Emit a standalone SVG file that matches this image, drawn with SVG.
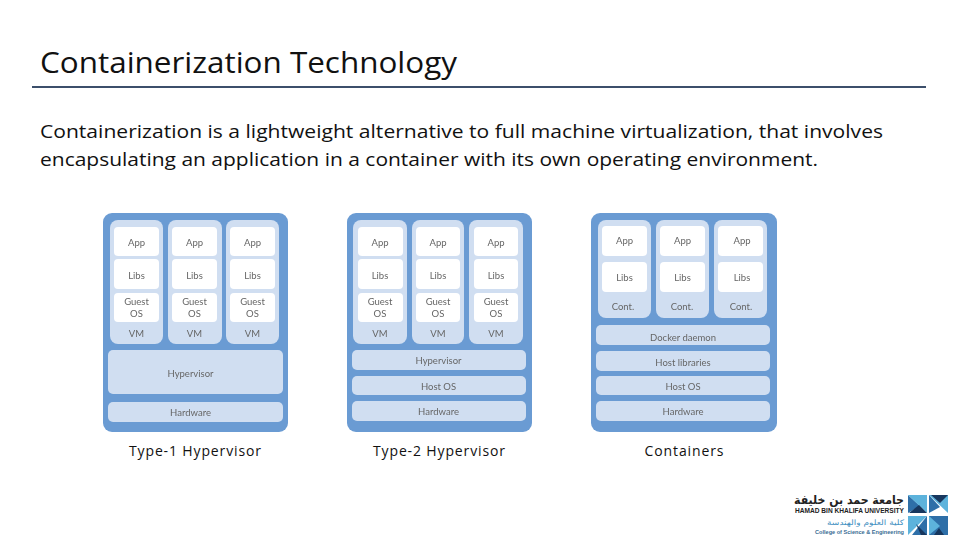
<svg xmlns="http://www.w3.org/2000/svg" width="960" height="540" viewBox="0 0 960 540">
<style>
.t{font-family:"Open Sans","Noto Sans",sans-serif;fill:#111}
.o{fill:#6a9bd3}
.v{fill:#d0def1}
.w{fill:#fff}
.l{font-family:Lato,"Noto Sans",sans-serif;font-size:9.5px;fill:#666;text-anchor:middle;filter:blur(.35px)}
.c{font-family:"Open Sans","Noto Sans",sans-serif;font-size:14px;fill:#111;text-anchor:middle}
.ar{font-family:"DejaVu Sans",sans-serif;direction:rtl}
.m{fill:#2e6fa8}
.n{fill:#5db3dc}
.d{fill:#17375e}
</style>
<rect width="960" height="540" fill="#fff"/>
<g id="header">
<text class="t" x="40" y="73" font-size="30" textLength="417" lengthAdjust="spacingAndGlyphs">Containerization Technology</text>
<rect x="32" y="86" width="894" height="2" fill="#3c4f6b"/>
<text class="t" x="40" y="138" font-size="19" textLength="843" lengthAdjust="spacingAndGlyphs">Containerization is a lightweight alternative to full machine virtualization, that involves</text>
<text class="t" x="40" y="166" font-size="19" textLength="778" lengthAdjust="spacingAndGlyphs">encapsulating an application in a container with its own operating environment.</text>
</g>
<g id="type1">
<rect class="o" x="103" y="213" width="185" height="219" rx="9"/>
<rect class="v" x="110" y="220" width="53" height="124" rx="8"/><rect class="v" x="168" y="220" width="54" height="124" rx="8"/><rect class="v" x="226" y="220" width="53" height="124" rx="8"/>
<rect class="w" x="114" y="227" width="45" height="29" rx="4"/><rect class="w" x="172" y="227" width="45" height="29" rx="4"/><rect class="w" x="230" y="227" width="45" height="29" rx="4"/>
<rect class="w" x="114" y="259" width="45" height="30" rx="4"/><rect class="w" x="172" y="259" width="45" height="30" rx="4"/><rect class="w" x="230" y="259" width="45" height="30" rx="4"/>
<rect class="w" x="114" y="293" width="45" height="29" rx="4"/><rect class="w" x="172" y="293" width="45" height="29" rx="4"/><rect class="w" x="230" y="293" width="45" height="29" rx="4"/>
<rect class="v" x="108" y="350" width="175" height="44" rx="5"/><rect class="v" x="108" y="402" width="175" height="20" rx="5"/>
<text class="l" x="136.500" y="246">App</text><text class="l" x="194.500" y="246">App</text><text class="l" x="252.500" y="246">App</text>
<text class="l" x="136.500" y="279">Libs</text><text class="l" x="194.500" y="279">Libs</text><text class="l" x="252.500" y="279">Libs</text>
<text class="l" x="136.500" y="305">Guest</text><text class="l" x="194.500" y="305">Guest</text><text class="l" x="252.500" y="305">Guest</text>
<text class="l" x="136.500" y="317">OS</text><text class="l" x="194.500" y="317">OS</text><text class="l" x="252.500" y="317">OS</text>
<text class="l" x="136.500" y="337">VM</text><text class="l" x="194.500" y="337">VM</text><text class="l" x="252.500" y="337">VM</text>
<text class="l" x="190.500" y="377">Hypervisor</text><text class="l" x="190.500" y="416">Hardware</text>
<text class="c" x="195" y="456" textLength="132" lengthAdjust="spacing">Type-1 Hypervisor</text>
</g>
<g id="type2">
<rect class="o" x="347" y="213" width="185" height="219" rx="9"/>
<rect class="v" x="353" y="220" width="54" height="124" rx="8"/><rect class="v" x="412" y="220" width="52" height="124" rx="8"/><rect class="v" x="469" y="220" width="54" height="124" rx="8"/>
<rect class="w" x="358" y="227" width="45" height="29" rx="4"/><rect class="w" x="416" y="227" width="44" height="29" rx="4"/><rect class="w" x="474" y="227" width="44" height="29" rx="4"/>
<rect class="w" x="358" y="259" width="45" height="30" rx="4"/><rect class="w" x="416" y="259" width="44" height="30" rx="4"/><rect class="w" x="474" y="259" width="44" height="30" rx="4"/>
<rect class="w" x="358" y="293" width="45" height="29" rx="4"/><rect class="w" x="416" y="293" width="44" height="29" rx="4"/><rect class="w" x="474" y="293" width="44" height="29" rx="4"/>
<rect class="v" x="352" y="350" width="174" height="20" rx="5"/><rect class="v" x="352" y="376" width="174" height="19" rx="5"/><rect class="v" x="352" y="401" width="174" height="20" rx="5"/>
<text class="l" x="380" y="246">App</text><text class="l" x="438" y="246">App</text><text class="l" x="496" y="246">App</text>
<text class="l" x="380" y="279">Libs</text><text class="l" x="438" y="279">Libs</text><text class="l" x="496" y="279">Libs</text>
<text class="l" x="380" y="305">Guest</text><text class="l" x="438" y="305">Guest</text><text class="l" x="496" y="305">Guest</text>
<text class="l" x="380" y="317">OS</text><text class="l" x="438" y="317">OS</text><text class="l" x="496" y="317">OS</text>
<text class="l" x="380" y="337">VM</text><text class="l" x="438" y="337">VM</text><text class="l" x="496" y="337">VM</text>
<text class="l" x="438.500" y="364">Hypervisor</text><text class="l" x="438.500" y="390">Host OS</text><text class="l" x="438.500" y="415">Hardware</text>
<text class="c" x="439" y="456" textLength="132" lengthAdjust="spacing">Type-2 Hypervisor</text>
</g>
<g id="containers">
<rect class="o" x="591" y="213" width="186" height="219" rx="9"/>
<rect class="v" x="598" y="220" width="53" height="98" rx="8"/><rect class="v" x="656" y="220" width="53" height="98" rx="8"/><rect class="v" x="714" y="220" width="53" height="98" rx="8"/>
<rect class="w" x="602" y="226" width="45" height="30" rx="4"/><rect class="w" x="660" y="226" width="45" height="30" rx="4"/><rect class="w" x="718" y="226" width="45" height="30" rx="4"/>
<rect class="w" x="602" y="262" width="45" height="30" rx="4"/><rect class="w" x="660" y="262" width="45" height="30" rx="4"/><rect class="w" x="718" y="262" width="45" height="30" rx="4"/>
<rect class="v" x="596" y="325" width="174" height="20" rx="5"/><rect class="v" x="596" y="351" width="174" height="20" rx="5"/><rect class="v" x="596" y="376" width="174" height="19" rx="5"/><rect class="v" x="596" y="401" width="174" height="20" rx="5"/>
<text class="l" x="624.500" y="244">App</text><text class="l" x="682.500" y="244">App</text><text class="l" x="742" y="244">App</text>
<text class="l" x="624.500" y="281">Libs</text><text class="l" x="682.500" y="281">Libs</text><text class="l" x="742" y="281">Libs</text>
<text class="l" x="623" y="310">Cont.</text><text class="l" x="682" y="310">Cont.</text><text class="l" x="741" y="310">Cont.</text>
<text class="l" x="683" y="341">Docker daemon</text><text class="l" x="683" y="366">Host libraries</text><text class="l" x="683" y="390">Host OS</text><text class="l" x="683" y="415">Hardware</text>
<text class="c" x="684" y="456" textLength="79" lengthAdjust="spacing">Containers</text>
</g>
<g id="logo">
<text class="ar" x="904" y="504" font-size="12" fill="#222" font-weight="bold" textLength="110" lengthAdjust="spacingAndGlyphs">جامعة حمد بن خليفة</text>
<text x="795" y="513" font-family="'Liberation Sans',sans-serif" font-size="7" font-weight="bold" fill="#222" textLength="109" lengthAdjust="spacingAndGlyphs">HAMAD BIN KHALIFA UNIVERSITY</text>
<text class="ar" x="904" y="525" font-size="7.500" fill="#3f8fbf" textLength="77" lengthAdjust="spacingAndGlyphs">كلية العلوم والهندسة</text>
<text x="815" y="534" font-family="'Liberation Sans',sans-serif" font-size="6" font-weight="bold" fill="#3a6d94" textLength="89" lengthAdjust="spacingAndGlyphs">College of Science &amp; Engineering</text>
<path class="m" d="M908 495L920 506L908 513Z"/>
<path class="n" d="M908 495L927 495L927 513Z"/>
<path class="d" d="M909 513L919 505L927 513Z"/>
<path class="n" d="M929 495L948 495L948 513Z"/>
<path class="m" d="M929 495L940 507L929 513Z"/>
<path class="d" d="M931 495L948 495L940 503Z"/>
<path class="n" d="M908 516L927 516L908 535Z"/>
<path class="m" d="M927 516L927 535L912 535Z"/>
<path class="d" d="M916 524L927 535L921 535Z"/>
<path class="m" d="M929 516L948 516L948 535L929 535Z"/>
<path class="n" d="M929 516L940 526L929 535Z"/>
<path class="d" d="M934 535L939 528L944 535Z"/>
</g>
</svg>
